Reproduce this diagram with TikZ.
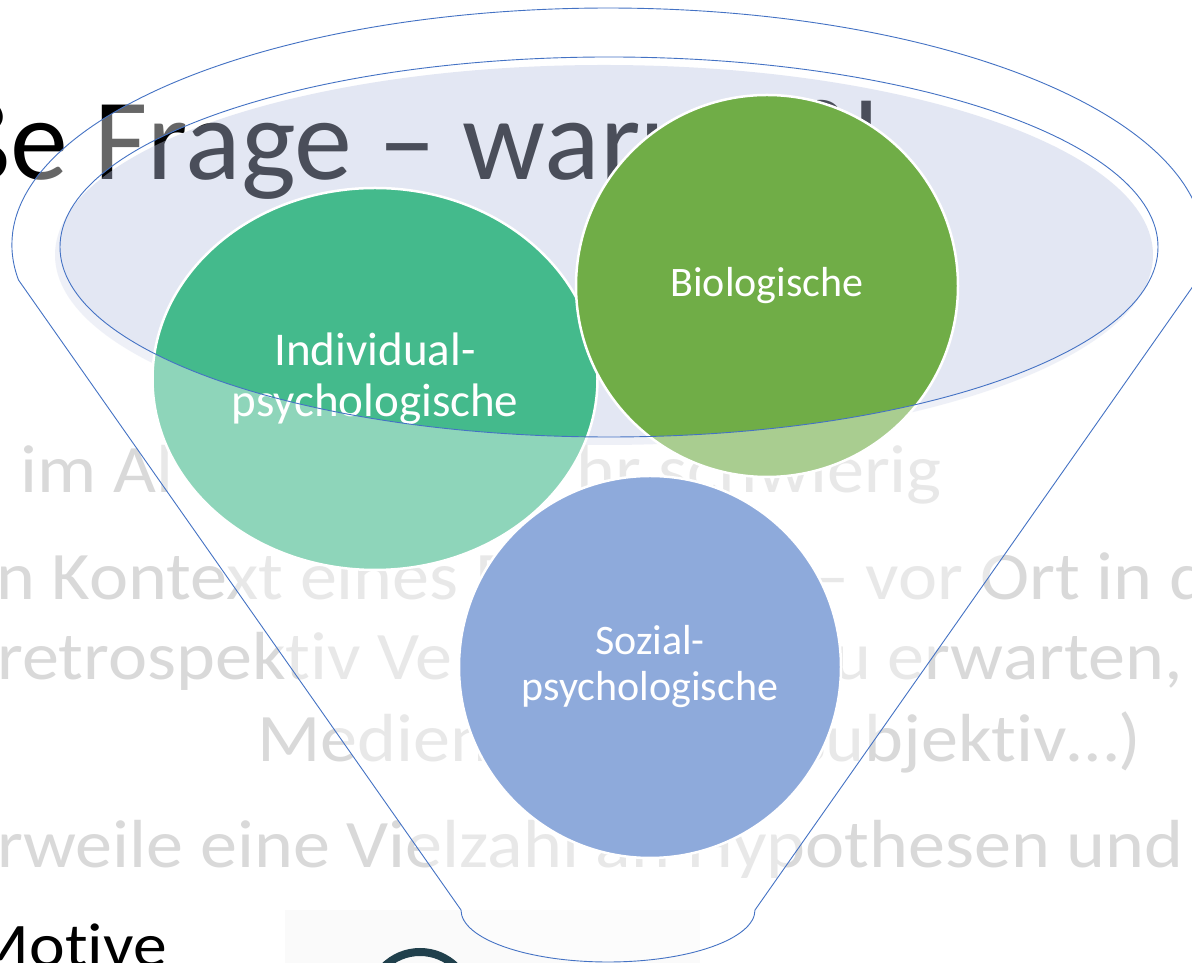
\documentclass[tikz,border=0pt]{standalone}
\usepackage{fontspec}
\setmainfont{Carlito}[Ligatures=NoCommon]
\newfontfamily\bodyfont{Carlito}[FakeStretch=1.09, Ligatures=NoCommon]
\usetikzlibrary{positioning,shapes.geometric}

\definecolor{bodygray}{RGB}{217,217,217}
\definecolor{funnelblue}{RGB}{68,114,196}
\definecolor{rimfill}{RGB}{187,197,225}
\definecolor{indgreen}{RGB}{68,186,140}
\definecolor{biogreen}{RGB}{112,173,71}
\definecolor{sozblue}{RGB}{68,114,196}
\definecolor{iconteal}{RGB}{32,64,76}

\begin{document}
\begin{tikzpicture}[x=1pt, y=1pt,
    slidetext/.style={inner sep=0, text=bodygray, font=\bodyfont\fontsize{68}{80}\selectfont},
    bubble/.style={circle, draw=white, line width=2.5pt, text=white, align=center, inner sep=0,
      minimum size=382pt, font=\fontsize{42}{46}\selectfont},
    outline/.style={draw=funnelblue, line width=0.9pt}]

    % Canvas
    \useasboundingbox (0,0) rectangle (1192,963);
    \clip (0,0) rectangle (1192,963);
    \fill[white] (0,0) rectangle (1192,963);

    % Picture placeholder
    \fill[black!2] (285,0) rectangle (700,53);
    \draw[iconteal, line width=8pt] (369,-40) arc[start angle=180, end angle=0, radius=51];

    % Title
    \node[anchor=base west, inner sep=0, font=\fontsize{116}{130}\selectfont] (title) at (-51,783) {ße Frage – warum?!};

    % Body text
    \node[slidetext, anchor=base west] (line1a) at (20,470) {im Al};
    \node[slidetext, anchor=base east] (line1b) at (942,470) {hr schwierig};
    \node[slidetext, anchor=base west] (line2a) at (-4,363) {n Kontext eines E};
    \node[slidetext, anchor=base west] (line2b) at (812,363) {– vor Ort in d};
    \node[slidetext, anchor=base west] (line3a) at (-3,283) {retrospektiv Ve};
    \node[slidetext, anchor=base east] (line3b) at (1183,283) {u erwarten,};
    \node[slidetext, anchor=base west] (line4a) at (257,201) {Medien};
    \node[slidetext, anchor=base east] (line4b) at (1141,201) {(subjektiv…)};
    \node[slidetext, anchor=base west] (line5) at (-3,95) {rweile eine Vielzahl an Hypothesen und};
    \node[anchor=base east, inner sep=0, font=\bodyfont\fontsize{62}{72}\selectfont] (motive) at (167,-4) {Motive};

    % Rim fill
    \fill[rimfill, fill opacity=0.4] (604,708) ellipse[x radius=549, y radius=190];

    % Circles
    \node[bubble, ellipse, fill=indgreen, minimum width=445pt, minimum height=382pt,
      font=\fontsize{47}{51}\selectfont] (ind) at (375,584) {Individual-\\psychologische};
    \node[bubble, fill=biogreen] (bio) at (767,677) {Biologische};
    \node[bubble, fill=sozblue] (soz) at (650,296) {Sozial-\\psychologische};

    % Funnel glass
    \begin{scope}
      \clip (18.5,683) arc[start angle=188.49, end angle=-8.49, x radius=596, y radius=237]
        -- (755,53) arc[start angle=0, end angle=-180, x radius=147, y radius=52] -- cycle;
      \fill[white, fill opacity=0.4, even odd rule] (0,0) rectangle (1192,963)
        (609,716) ellipse[x radius=549, y radius=190];
    \end{scope}

    % Funnel outline
    \draw[outline] (18.5,683) arc[start angle=188.49, end angle=-8.49, x radius=596, y radius=237]
      -- (755,53) arc[start angle=0, end angle=-180, x radius=147, y radius=52] -- cycle;

    % Rim outline
    \draw[outline] (609,716) ellipse[x radius=549, y radius=190];
\end{tikzpicture}
\end{document}
